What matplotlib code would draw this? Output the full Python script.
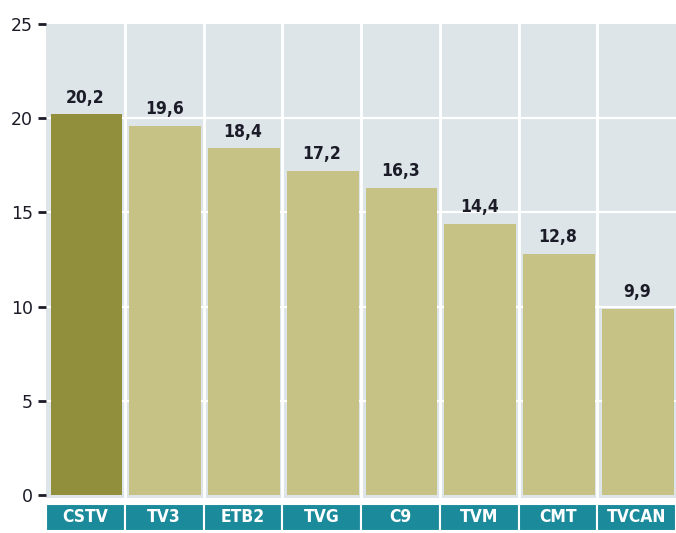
import matplotlib.pyplot as plt
from matplotlib.patches import Rectangle
import matplotlib.transforms as mtransforms

channels = ['CSTV', 'TV3', 'ETB2', 'TVG', 'C9', 'TVM', 'CMT', 'TVCAN']
values = [20.2, 19.6, 18.4, 17.2, 16.3, 14.4, 12.8, 9.9]
yticks = [0, 5, 10, 15, 20, 25]

bg = '#dde5e9'
dark = '#918f3c'
light = '#c6c185'
teal = '#1b8a9b'
ink = '#1c1c28'

plt.rcParams['font.family'] = ['DejaVu Sans']

fig = plt.figure(figsize=(6.76, 5.33), dpi=100)
ax = fig.add_axes([46 / 676, 35 / 533, 630 / 676, 474 / 533])
ax.set_facecolor(bg)

x = [i + 0.015 for i in range(len(channels))]
colors = [dark] + [light] * (len(channels) - 1)
ax.bar(x, values, width=0.91, color=colors, zorder=3)

for i, v in enumerate(values):
    ax.annotate(f'{v:.1f}'.replace('.', ','), (i, v), xytext=(0, 8.5),
                textcoords='offset points', ha='center', va='baseline',
                fontsize=12.5, fontweight='bold', fontstretch='condensed',
                color=ink, zorder=4)

ax.set_xlim(-0.5, len(channels) - 0.5)
ax.set_ylim(-0.15, 25)
ax.set_yticks(yticks)
ax.tick_params(axis='y', length=6, width=2, color=ink, pad=3.5,
               labelsize=12.5, labelcolor=ink)
ax.set_xticks([])
for s in ax.spines.values():
    s.set_visible(False)

# white gridlines (not at zero)
for t in yticks[1:-1]:
    ax.axhline(t, color='white', linewidth=1.6, zorder=1)

# white separators between columns
for b in range(1, len(channels)):
    ax.axvline(b - 0.5, color='white', linewidth=2, zorder=2)

# teal label boxes below axis
trans = mtransforms.blended_transform_factory(ax.transData, ax.transAxes)
for i, name in enumerate(channels):
    ax.add_patch(Rectangle((i - 0.5, -0.0700), 1, 0.0580, transform=trans,
                           facecolor=teal, edgecolor='white', linewidth=1.5,
                           clip_on=False))
    ax.text(i, -0.0410, name, transform=trans, ha='center', va='center',
            color='white', fontsize=12.5, fontweight='bold',
            fontstretch='condensed')

fig.savefig('out.png', dpi=100)
